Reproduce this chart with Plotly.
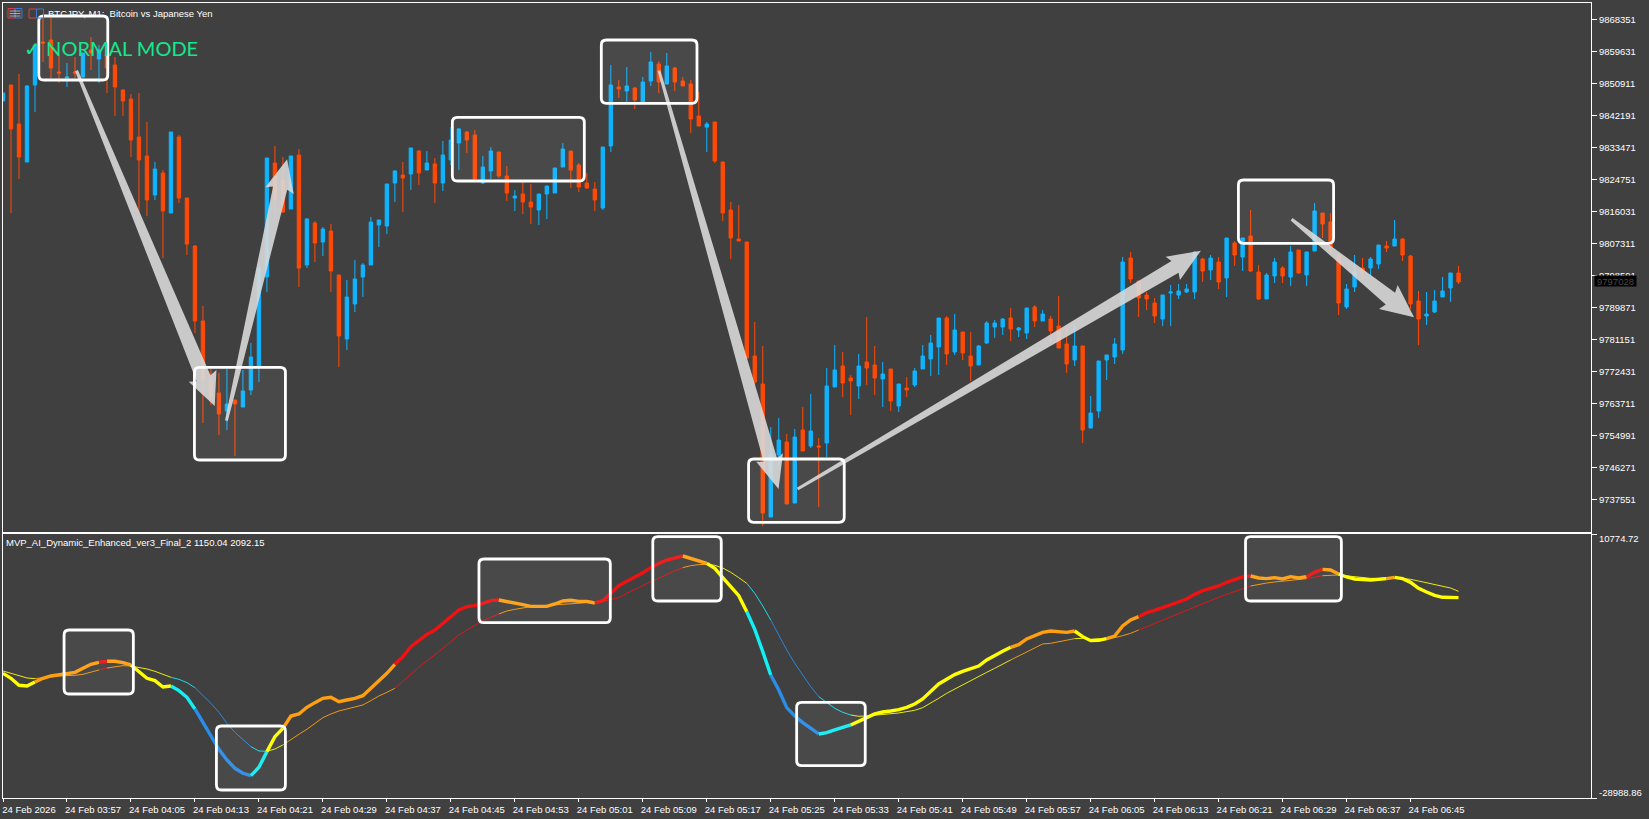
import plotly.graph_objects as go

bar_high = [9848270,9850450,9853445,9850450,9861890,9868980,9868705,9858620,9856440,9858075,9859165,9863530,9861350,9862710,9858075,9849085,9847995,9848270,9840365,9829465,9827285,9837640,9836820,9819655,9806845,9790225,9773060,9771970,9773060,9764610,9772785,9780140,9801125,9830555,9833825,9830825,9831100,9833010,9814205,9813390,9811750,9812570,9798670,9797310,9802760,9801945,9814480,9813660,9823470,9827285,9829465,9833280,9832735,
9832460,9830555,9835190,9838970,9838730,9837910,9838185,9831100,9833550,9832190,9828375,9821835,9824015,9823470,9820745,9822925,9827830,9834640,9832460,9829190,9826470,9824015,9833550,9855900,9851810,9855350,9849900,9852630,9859440,9856990,9859165,9855350,9852630,9851810,9848540,9840365,9840365,9829465,9818565,9817750,9807665,9785865,9779325,9757250,9759705,9755345,9756700,9762700,9766245,9754255,9773330,9779600,9777690,9771420,9777145,9787230,9779325,9774965,9773060,9768970,9770880,9773330,9779600,9782320,9786955,9787500,9788045,9783140,9783140,9779600,9786140,9786410,9786955,9789680,9784500,9789680,9790500,9789135,9787500,9792950,9784230,9785320,9779325,9765700,9775235,9776875,9781505,9803580,9804940,9797040,9794040,9792405,9793220,9795945,9796220,9796220,9805210,9803305,9804120,9803580,9808755,9807940,9808755,9816385,9801400,9799220,9803305,9801125,9806575,9805485,9804940,9818290,9815570,9815570,9804120,9796220,9804120,9803305,9803580,9806845,9807940,9813660,9808755,9804120,9794310,9794040,9794585,9798130,9799220,9801125]
bar_open = [9846085,9850450,9839820,9829465,9850450,9862165,9862710,9853990,9852355,9853990,9852630,9859985,9857530,9858620,9855900,9849085,9846630,9836280,9831100,9820470,9826470,9815570,9836280,9819655,9806575,9786140,9770060,9766520,9761610,9764610,9762700,9767335,9773875,9798130,9829190,9824560,9816660,9831370,9801400,9812840,9807665,9810660,9798670,9781230,9790770,9798130,9801400,9812295,9812025,9823740,9825920,9826195,9832460,
9827285,9828920,9823740,9830010,9834640,9837640,9836820,9823740,9827010,9832190,9825650,9819655,9820745,9818565,9816385,9820745,9821020,9828100,9832460,9828650,9823740,9822110,9816930,9833825,9849900,9848810,9849630,9845815,9851540,9856170,9850720,9855080,9851540,9850720,9842000,9838970,9840365,9829465,9816385,9808480,9807665,9776600,9768970,9732730,9749625,9753165,9736540,9756435,9752075,9752075,9752890,9768150,9773875,9770605,9768425,9774965,9774150,9770335,9773060,9762975,9767880,9768700,9773060,9775780,9779050,9786955,9777690,9783140,9776600,9774150,9780140,9784500,9784500,9786955,9783685,9782870,9789950,9786140,9786680,9784775,9779870,9775510,9779325,9756980,9761610,9775510,9776330,9778235,9803305,9797040,9793220,9791040,9786680,9793770,9793220,9794040,9794040,9803030,9800035,9802215,9797855,9807390,9803580,9809300,9799490,9792130,9798400,9800580,9798130,9805485,9798670,9805210,9815570,9813115,9804120,9789950,9795400,9800580,9800580,9801670,9806575,9806575,9808480,9803850,9791590,9787500,9788590,9792680,9795130,9799220]
bar_low = [9846085,9815570,9824835,9829465,9843090,9856715,9852355,9850990,9849900,9852355,9852355,9854535,9850990,9848270,9842000,9842000,9830825,9815570,9814750,9819110,9803305,9815570,9818290,9804120,9782870,9758340,9763250,9755070,9756435,9749350,9762700,9765975,9769515,9794040,9815840,9815570,9816660,9795400,9800580,9802215,9803850,9794040,9773600,9778235,9788590,9792680,9801400,9806300,9809845,9818565,9815840,9821835,9823195,
9827285,9818290,9821560,9828650,9827285,9831920,9824560,9823470,9824835,9825105,9818840,9816115,9815295,9812570,9812295,9813935,9821020,9828100,9822380,9821290,9822110,9816115,9816385,9832190,9846905,9845815,9843910,9845815,9850175,9848270,9850720,9848810,9850175,9837365,9839275,9832190,9829190,9813390,9803030,9807940,9776055,9768700,9730275,9732730,9746350,9736270,9736540,9750710,9751530,9735450,9749075,9768150,9765430,9760525,9764880,9768700,9765975,9762700,9761610,9761340,9765430,9768150,9773060,9771150,9771420,9774150,9776875,9775510,9769790,9774150,9779870,9781505,9782320,9780685,9781780,9781230,9784500,9786140,9780415,9778780,9771970,9773875,9752890,9756980,9759705,9770060,9774420,9777145,9796490,9787230,9789135,9785590,9784775,9784775,9792130,9793770,9792130,9796765,9797310,9794860,9792680,9801125,9799760,9799490,9791860,9792130,9796490,9796490,9795675,9798945,9795675,9805210,9808755,9804670,9787770,9789410,9794040,9797310,9798400,9800305,9804940,9806575,9802490,9789410,9779600,9785045,9788320,9792680,9791315,9796220]
bar_close = [9848270,9838460,9830825,9850175,9861350,9861890,9855080,9853720,9852630,9853720,9859165,9859165,9859985,9855080,9849900,9846085,9835460,9830010,9819110,9827555,9816115,9837640,9819655,9807120,9786140,9770335,9765700,9760795,9763520,9763520,9767065,9776330,9800580,9830555,9819110,9815840,9831100,9800580,9813935,9807390,9811205,9799760,9782050,9792680,9797580,9801400,9813115,9813660,9823470,9827010,9825105,9833280,9826470,
9829190,9823740,9831370,9835460,9838460,9835460,9824835,9828100,9832460,9825650,9821020,9820200,9818565,9817200,9820745,9822925,9827830,9833010,9827285,9822650,9822380,9819110,9833550,9850450,9849360,9850175,9846360,9851265,9856715,9851265,9855625,9851265,9850175,9841180,9839275,9839820,9829735,9815570,9808755,9807940,9776055,9769515,9733820,9749895,9753710,9736270,9754530,9750710,9756160,9751800,9768425,9772785,9769240,9769790,9773875,9773330,9770605,9771695,9764340,9768970,9767335,9772510,9776600,9780140,9786955,9777145,9783685,9777420,9773875,9779325,9785590,9785590,9786680,9783960,9784230,9789680,9786140,9788045,9783410,9778780,9774420,9779325,9756435,9761065,9775235,9776875,9779870,9802215,9797580,9792405,9792130,9787500,9793220,9794040,9794310,9794860,9804940,9799760,9803305,9796765,9808755,9804120,9808755,9799760,9792130,9798670,9802215,9798400,9804940,9799220,9804940,9816115,9812570,9806300,9791040,9794860,9799490,9799490,9803030,9806845,9806030,9808480,9804120,9790770,9786680,9788045,9791590,9794310,9799220,9796765]

main_line = [-10209,-10962,-12016,-12117,-11514,-10962,-10611,-10410,-10259,-10058,-9456,-8854,-8552,-8402,-8402,-8603,-8954,-9958,-10962,-11313,-12267,-12117,-12819,-13823,-15580,-17588,-19747,-21655,-23261,-24516,-25269,-25620,-24365,-22006,-19747,-18492,-16635,-16333,-15329,-14627,-13974,-13823,-14476,-14225,-13974,-13572,-12468,-11313,-10209,-8854,-7699,-6193,-5189,-4336,-3683,-2679,-1575,-671,-169,-18,333,735,835,634,433,132,-119,-169,-119,233,684,785,634,634,383,735,1839,2994,3646,4249,4951,5704,6357,6859,7210,7461,7110,6759,6357,5604,4198,2843,1488,-922,-3583,-6946,-10460,-12719,-15380,-16635,-17639,-18492,-19345,-19145,-18743,-18392,-17990,-17488,-16886,-16333,-16032,-15882,-15681,-15329,-14827,-14074,-12970,-11815,-11113,-10410,-9908,-9556,-9105,-8201,-7498,-6896,-6293,-5892,-5038,-4486,-4034,-3834,-3934,-4034,-3834,-4687,-5289,-5239,-4988,-4587,-3081,-2177,-1675,-1073,-721,-320,82,534,986,1688,2241,2592,2943,3496,3947,4299,4449,4148,4048,4198,3998,4349,4148,4349,5002,5453,5353,4751,4299,3998,3897,3847,3947,4048,4249,4048,3496,2592,2040,1538,1237,1186,1186]
signal_line = [-9858,-10209,-10611,-10912,-11012,-10811,-10711,-10611,-10611,-10510,-10360,-10058,-9707,-9406,-9205,-9054,-9105,-9305,-9556,-9908,-10410,-10811,-11113,-11615,-12368,-13472,-14727,-16082,-17739,-19094,-20249,-21253,-21906,-21956,-21604,-21002,-20149,-19396,-18643,-17739,-16886,-16333,-15882,-15580,-15329,-14978,-14325,-13623,-13070,-12468,-11364,-10309,-9305,-8352,-7448,-6444,-5440,-4436,-3683,-2930,-2277,-1775,-1273,-822,-571,-320,-169,-69,32,82,132,233,333,433,333,584,835,1186,1839,2441,3094,3596,4098,4700,5253,5704,6006,6156,6206,6056,5654,5002,4198,3345,1839,-69,-2177,-4436,-6695,-8703,-10460,-12217,-13723,-14576,-15480,-16082,-16484,-16685,-16635,-16534,-16484,-16384,-16183,-15982,-15781,-15380,-14727,-13974,-13221,-12568,-11966,-11313,-10711,-10058,-9456,-8803,-8201,-7599,-6946,-6344,-5791,-5691,-5490,-5289,-4988,-4938,-5089,-5038,-4938,-4838,-4536,-4185,-3683,-3181,-2679,-2177,-1675,-1173,-671,-269,233,735,1237,1688,2140,2592,2943,3194,3395,3546,3696,3797,3897,4048,4299,4500,4600,4600,4449,4299,4198,4098,4098,4198,4198,4098,3947,3696,3445,3194,2943,2642,2140]

segment_starts = [0,4,12,13,16,21,24,31,33,35,49,62,74,85,88,93,96,102,106,126,134,138,142,156,163,165,167,173,174]
segment_states = ["y","o","r","o","y","c","b","c","y","o","r","o","r","o","y","c","b","c","y","o","y","o","r","o","r","o","y","o","y"]

price_ticks = [9868351,9859631,9850911,9842191,9833471,9824751,9816031,9807311,9798591,9789871,9781151,9772431,9763711,9754991,9746271,9737551]
osc_ticks = [10774.72,-28988.86]
osc_tick_labels = ["10774.72","-28988.86"]
time_labels = ["24 Feb 2026","24 Feb 03:57","24 Feb 04:05","24 Feb 04:13","24 Feb 04:21","24 Feb 04:29","24 Feb 04:37","24 Feb 04:45","24 Feb 04:53","24 Feb 05:01","24 Feb 05:09","24 Feb 05:17","24 Feb 05:25","24 Feb 05:33","24 Feb 05:41","24 Feb 05:49","24 Feb 05:57","24 Feb 06:05","24 Feb 06:13","24 Feb 06:21","24 Feb 06:29","24 Feb 06:37","24 Feb 06:45"]
current_price = 9797028

W, H = 1649, 819
LEFT, RIGHT, TOP, BOTTOM = 2.5, 1591.0, 3.0, 798.0
BG = "#404040"
FONT = "Liberation Sans"
state_colors = {"y": "#ffff00", "o": "#ffa010", "r": "#f01212", "c": "#14eef5", "b": "#2a8de8"}


def px(x):
    return (x - LEFT) / (RIGHT - LEFT)


def py(y):
    return (BOTTOM - y) / (BOTTOM - TOP)


bars = list(range(len(bar_open)))
fig = go.Figure()
fig.add_trace(go.Candlestick(
    x=bars, open=bar_open, high=bar_high, low=bar_low, close=bar_close,
    xaxis="x2", yaxis="y",
    increasing=dict(line=dict(color="#0fb4ff", width=1), fillcolor="#0fb4ff"),
    decreasing=dict(line=dict(color="#ff4a05", width=1), fillcolor="#ff4a05"),
    whiskerwidth=0, showlegend=False, hoverinfo="skip",
))

ends = segment_starts[1:] + [len(bars) - 1]
for series, width in ((signal_line, 0.9), (main_line, 3.4)):
    for start, end, state in zip(segment_starts, ends, segment_states):
        fig.add_trace(go.Scatter(
            x=bars[start:end + 1], y=series[start:end + 1], mode="lines",
            line=dict(color=state_colors[state], width=width),
            xaxis="x", yaxis="y2", showlegend=False, hoverinfo="skip",
        ))

shapes = []
boxes = [
    (38.3, 16, 107.3, 80), (194, 367.3, 285, 460), (452, 117.3, 584, 181),
    (601, 40, 696.7, 103.3), (748.3, 459, 844, 522.3), (1238.3, 180, 1333.5, 243.3),
    (63.6, 630, 132.9, 694), (216, 726, 285, 790), (478.6, 559, 610, 622.7),
    (652.5, 536.7, 721, 601), (796.4, 702.3, 865, 765.7), (1245.4, 536.7, 1341.3, 601),
]
arrows = [
    ((76, 70.7), (214.3, 406), (188.3, 381.7), (216, 370)),
    ((226, 420.7), (286.7, 159.3), (265, 187.3), (293.3, 194)),
    ((658.7, 70.7), (778.3, 489), (756, 461.7), (782.7, 453.3)),
    ((797.3, 489), (1200.8, 250.7), (1165.5, 256.7), (1179.8, 280)),
    ((1291.5, 219.3), (1414, 317.3), (1397.6, 285), (1379, 309)),
]


def poly(points):
    return "M " + " L ".join(f"{px(x):.5f},{py(y):.5f}" for x, y in points) + " Z"


for tail, tip, a, b in arrows:
    mx, my = (a[0] + b[0]) / 2, (a[1] + b[1]) / 2
    nx, ny = mx + 0.08 * (tip[0] - mx), my + 0.08 * (tip[1] - my)
    k = 0.5
    t = 0.1
    n1 = (nx + k * (a[0] - mx), ny + k * (a[1] - my))
    n2 = (nx + k * (b[0] - mx), ny + k * (b[1] - my))
    t1 = (tail[0] + t * (a[0] - mx), tail[1] + t * (a[1] - my))
    t2 = (tail[0] + t * (b[0] - mx), tail[1] + t * (b[1] - my))
    shapes.append(dict(type="path", xref="paper", yref="paper", layer="above",
                       path=poly([t1, n1, a, tip, b, n2, t2]),
                       fillcolor="rgba(216,216,216,0.9)", line=dict(width=0)))

for x0, y0, x1, y1 in boxes:
    r = 5
    segs = [
        f"M {px(x0 + r):.5f},{py(y0):.5f}", f"L {px(x1 - r):.5f},{py(y0):.5f}",
        f"Q {px(x1):.5f},{py(y0):.5f} {px(x1):.5f},{py(y0 + r):.5f}",
        f"L {px(x1):.5f},{py(y1 - r):.5f}",
        f"Q {px(x1):.5f},{py(y1):.5f} {px(x1 - r):.5f},{py(y1):.5f}",
        f"L {px(x0 + r):.5f},{py(y1):.5f}",
        f"Q {px(x0):.5f},{py(y1):.5f} {px(x0):.5f},{py(y1 - r):.5f}",
        f"L {px(x0):.5f},{py(y0 + r):.5f}",
        f"Q {px(x0):.5f},{py(y0):.5f} {px(x0 + r):.5f},{py(y0):.5f} Z",
    ]
    shapes.append(dict(type="path", xref="paper", yref="paper", layer="above",
                       path=" ".join(segs), fillcolor="rgba(255,255,255,0.05)",
                       line=dict(color="#ffffff", width=2.8)))

for x0, y0, x1, y1, color in [
    (7.5, 8.5, 14.5, 18, "#d84040"), (14.5, 8.5, 21.5, 18, "#3a78d8"),
    (28.5, 9, 36, 18, "#d84040"), (36, 9, 43, 18, "#3a78d8"),
]:
    shapes.append(dict(type="rect", xref="paper", yref="paper", x0=px(x0), x1=px(x1), y0=py(y0), y1=py(y1),
                       line=dict(color=color, width=1), fillcolor="rgba(0,0,0,0)", layer="above"))
for y in (11, 13.5, 16):
    shapes.append(dict(type="line", xref="paper", yref="paper", x0=px(9), x1=px(20), y0=py(y), y1=py(y),
                       line=dict(color="#c8c8d8", width=0.8), layer="above"))


def label(text, x, y, size=9.5, color="#ffffff", family=FONT, anchor="left"):
    return dict(text=text, x=px(x), y=py(y), xref="paper", yref="paper", xanchor=anchor, yanchor="middle",
                showarrow=False, font=dict(family=family, size=size, color=color), borderpad=0, borderwidth=0)


annotations = [
    label("BTCJPY, M1:  Bitcoin vs Japanese Yen", 48, 13.7),
    label("MVP_AI_Dynamic_Enhanced_ver3_Final_2 1150.04 2092.15", 5.5, 542.7),
    label("✓ NORMAL MODE", 24, 47.7, size=20, color="#14e88c", family="Lato"),
    dict(text=str(current_price), x=px(1594), y=current_price, xref="paper", yref="y", xanchor="left", yanchor="middle",
         showarrow=False, width=41, height=10, bgcolor="#000000", borderpad=0, align="center",
         font=dict(family=FONT, size=9.5, color="#4a4a4a")),
]
for value, text, shift in zip(osc_ticks, osc_tick_labels, (-4.5, 5.5)):
    annotations.append(dict(text=text, x=px(1597), y=value, xref="paper", yref="y2", xanchor="left", yanchor="middle",
                            yshift=shift, showarrow=False,
                            font=dict(family=FONT, size=9.5, color="#ffffff")))

split_low = (BOTTOM - 534.0) / (BOTTOM - TOP)
split_high = (BOTTOM - 531.5) / (BOTTOM - TOP)
x_range = [0, (RIGHT - LEFT) / 8]
axis_font = dict(family=FONT, size=9.5, color="#ffffff")

fig.update_layout(
    width=W, height=H, autosize=False,
    margin=dict(l=LEFT, r=W - RIGHT, t=TOP, b=H - BOTTOM, pad=0),
    paper_bgcolor=BG, plot_bgcolor=BG, showlegend=False, boxgap=0.4,
    shapes=shapes, annotations=annotations,
    xaxis=dict(domain=[0, 1], range=x_range, anchor="y2", showgrid=False, zeroline=False,
               showline=True, mirror=True, linecolor="#ffffff", linewidth=1,
               ticks="outside", ticklen=3, tickcolor="#ffffff", tickwidth=1,
               tickmode="array", tickvals=[8 * k for k in range(len(time_labels))], ticktext=time_labels,
               ticklabelshift=26, tickangle=0, tickfont=axis_font),
    xaxis2=dict(domain=[0, 1], range=x_range, anchor="y", showgrid=False, zeroline=False,
                showline=True, mirror=True, linecolor="#ffffff", linewidth=1,
                showticklabels=False, ticks="", rangeslider=dict(visible=False), matches=None),
    yaxis=dict(domain=[split_high, 1], range=[9873610 - 272.5 * 531.5, 9873610 - 272.5 * 3], side="right", anchor="x2",
               showgrid=False, zeroline=False, showline=True, mirror=True, linecolor="#ffffff", linewidth=1,
               ticks="outside", ticklen=5, tickcolor="#ffffff", tickwidth=1,
               tickmode="array", tickvals=price_ticks, ticktext=[str(v) for v in price_ticks], tickfont=axis_font),
    yaxis2=dict(domain=[0, split_low], range=[osc_ticks[1], osc_ticks[0]], side="right", anchor="x",
                showgrid=False, zeroline=False, showline=True, mirror=True, linecolor="#ffffff", linewidth=1,
                ticks="outside", ticklen=5, tickcolor="#ffffff", tickwidth=1,
                tickmode="array", tickvals=osc_ticks, ticktext=["", ""], tickfont=axis_font),
)

fig.write_html("out.html", config=dict(displayModeBar=False),
               post_script="document.body.style.margin='0';document.documentElement.style.overflow='hidden';")
